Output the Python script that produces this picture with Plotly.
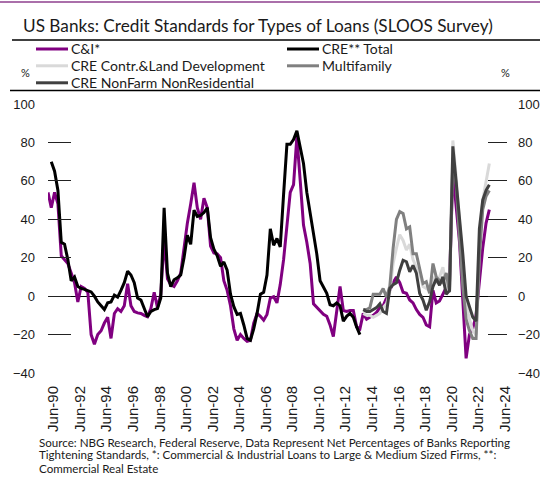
import pandas as pd
import plotly.graph_objects as go

# ---- data: net % of banks reporting tightening standards, quarterly from Q1 1990 ----
quarters = pd.date_range("1990-01-01", periods=134, freq="QS")

ci_loans = [
    54, 46, 54, 48, 21, 19, 17, 12, 7, -3, 5, 4, 2, -20, -25, -20, -18, -14, -11, -22,
    -9, -6.5, -8, -5, 6.5, -5, -8, -8.7, -9, -10, -10.7, -6.5, 2, -6, 1, 30, 9, 6, 5, 8,
    12, 25, 38, 48, 59, 46, 40, 51, 46, 26, 22.5, 22, 20, 8, 3, -5, -17, -23, -20, -22,
    -23.5, -23, -14, -9, -10.5, -12.5, -9.5, -1, -0.3, -3.5, 6, 19, 35, 54, 58, 83, 60, 37, 28, 17,
    -4, -6, -7.5, -9.5, -10.5, -15, -21, -9, 5, -7.5, -8, -7.5, -7.5, -16, -17, -9, -12, -11, -10, -8.5,
    -6, -5, -1, 3, 7, 10, 7, 2, 1.5, -2, -3.5, -7, -9.5, -11, -15, -16, 3, -3.5, -2.5, 1,
    4.5, 8, 65, 45, 28, -2, -32.4, -20, -17, -10, 7, 25, 38, 45,
]

# CRE total: Q2 1990 .. Q3 2013
cre_total = [
    70, 65, 55, 28, 27, 19, 8, 10, 5, 4, 3.5, 2.8, 2.2, 0, -3, -5, -7, -3.5, -3, 0.5,
    -0.5, 3, 7, 13, 11, 7, -1, -2, -6, -10.7, -8, -7, -6.5, -1, 46, 12, 5, 8.5, 9.5, 11,
    20, 31.7, 27, 44.7, 41.5, 42, 43.5, 46, 30.5, 24.5, 21, 15.5, 17.8, 13.5, 1, -5.5, -9.5, -9, -15, -22,
    -23, -17, -9, 1, 2, 11, 35, 26.5, 30, 25.6, 53, 79, 79, 81.5, 86, 77, 69, 54, 43, 32,
    22, 8, 5, 1.5, -4.5, -5, -3.5, -5, -13, -10.5, -9, -11, -16, -20,
]

# CRE sub-categories: Q4 2013 .. Q2 2023
cre_construction = [
    -9, -10, -10, -11, -10, -9, -6, -4, 2, 17, 25, 32, 29, 24, 27, 19, 15, 12, 5, 4,
    3, 10, 6.6, 10, 15, 5, 3, 81, 62, 38, 18, -3, -12, -18, -20, 25, 50, 60, 69,
]
cre_multifamily = [
    -7, -7, -6, 1, 1, 1, 4, -0.5, 5, 25, 40, 44, 43, 35, 36, 22, 22, 13.5, 6.6, 7.5,
    1.4, 17, 10, 8, 7, 12, 2, 72, 58, 30, 5, -12, -18, -22, -22, 20, 45, 52, 55,
]
cre_nonfarm = [
    -7, -8, -8, -7, -6, -4, -8, -9, 4, 6, 7, 13.5, 18.7, 17.9, 12.7, 16, 12, 1.4, -2, -7.3,
    -3, 5, 9, 5.7, 10, 1, 3, 78, 60, 40, 22, 0, -6, -11, -13, 35, 50, 55, 58,
]

y_ticks = [-40, -20, 0, 20, 40, 60, 80, 100]
x_tick_years = list(range(1990, 2025, 2))

series = [
    ("C&I*", quarters, ci_loans, "#800080"),
    ("CRE** Total", quarters[1:1 + len(cre_total)], cre_total, "#000000"),
    ("CRE Contr.&Land Development", quarters[95:95 + len(cre_construction)], cre_construction, "#D9D9D9"),
    ("Multifamily", quarters[95:95 + len(cre_multifamily)], cre_multifamily, "#808080"),
    ("CRE NonFarm NonResidential", quarters[95:95 + len(cre_nonfarm)], cre_nonfarm, "#404040"),
]

# ---- page geometry (pixels) ----
W, H = 540, 479
L, R, T, B = 48, 507, 104, 373


def px(x):
    return (x - L) / (R - L)


def py(y):
    return (B - y) / (B - T)


TEXT_FONT = "Lato, 'Open Sans', sans-serif"
AXIS_FONT = "'Liberation Sans', Arial, sans-serif"
INK = "#1a1a1a"

fig = go.Figure()
for name, xs, ys, color in series:
    fig.add_trace(go.Scatter(
        x=xs, y=ys, name=name, mode="lines",
        line=dict(color=color, width=3), showlegend=False,
    ))
# empty trace so the right-hand axis is drawn
fig.add_trace(go.Scatter(x=[], y=[], yaxis="y2", showlegend=False))

fig.update_layout(
    width=W, height=H, autosize=False,
    margin=dict(l=L, r=W - R, t=T, b=H - B, pad=0, autoexpand=False),
    paper_bgcolor="white", plot_bgcolor="white",
    xaxis=dict(
        type="date", range=["1990-01-01", "2024-07-30"],
        tickvals=[f"{y}-06-01" for y in x_tick_years],
        ticktext=[f"Jun-{str(y)[2:]}" for y in x_tick_years],
        tickangle=-90, ticks="", showgrid=False, showline=False, zeroline=False,
        tickfont=dict(family=AXIS_FONT, size=15, color=INK),
        ticklabelstandoff=9,
    ),
    yaxis=dict(
        range=[-40, 100], tickvals=y_ticks, ticks="inside", ticklen=23,
        tickwidth=1.3, tickcolor="#222222", showgrid=False, showline=False,
        zeroline=True, zerolinecolor="#000000", zerolinewidth=1.3,
        tickfont=dict(family=AXIS_FONT, size=13, color=INK),
        ticklabelstandoff=12,
    ),
    yaxis2=dict(
        range=[-40, 100], tickvals=y_ticks, ticks="inside", ticklen=19,
        tickwidth=1.3, tickcolor="#222222", showgrid=False, showline=False,
        zeroline=False, overlaying="y", side="right",
        tickfont=dict(family=AXIS_FONT, size=13, color=INK),
        ticklabelstandoff=10,
    ),
)

shapes = [
    # thin accent rule at the very top, rules under the title and legend
    dict(type="line", xref="paper", yref="paper", x0=px(0), x1=px(540), y0=py(2), y1=py(2),
         line=dict(color="#8e3f8e", width=1.5)),
    dict(type="line", xref="paper", yref="paper", x0=px(12), x1=px(540), y0=py(40), y1=py(40),
         line=dict(color="#000000", width=1.3)),
    dict(type="line", xref="paper", yref="paper", x0=px(10), x1=px(540), y0=py(90.5), y1=py(90.5),
         line=dict(color="#000000", width=1.3)),
]
annotations = [
    dict(text="US Banks: Credit Standards for Types of Loans (SLOOS Survey)",
         xref="paper", yref="paper", x=px(21), y=py(25), xanchor="left", yanchor="middle",
         showarrow=False, font=dict(family=TEXT_FONT, size=17.2, color=INK)),
    dict(text="%", xref="paper", yref="paper", x=px(25), y=py(72), xanchor="center",
         yanchor="middle", showarrow=False, font=dict(family=TEXT_FONT, size=11, color=INK)),
    dict(text="%", xref="paper", yref="paper", x=px(505), y=py(72), xanchor="center",
         yanchor="middle", showarrow=False, font=dict(family=TEXT_FONT, size=11, color=INK)),
]

# legend: two columns, three rows
legend_slots = [(36, 49), (287, 49), (36, 65.8), (287, 65.8), (36, 82.8)]
for (name, _, _, color), (lx, ly) in zip(series, legend_slots):
    shapes.append(dict(type="line", xref="paper", yref="paper", x0=px(lx), x1=px(lx + 32),
                       y0=py(ly), y1=py(ly), line=dict(color=color, width=3)))
    annotations.append(dict(text=name, xref="paper", yref="paper", x=px(lx + 33), y=py(ly),
                            xanchor="left", yanchor="middle", showarrow=False,
                            font=dict(family=TEXT_FONT, size=14, color=INK)))

footer = [
    "Source: NBG Research, Federal Reserve, Data Represent Net Percentages of Banks Reporting",
    "Tightening Standards, *: Commercial & Industrial Loans to Large & Medium Sized Firms, **:",
    "Commercial Real Estate",
]
for i, line in enumerate(footer):
    annotations.append(dict(text=line, xref="paper", yref="paper", x=px(37), y=py(442 + 13 * i),
                            xanchor="left", yanchor="middle", showarrow=False,
                            font=dict(family=TEXT_FONT, size=11.6, color=INK)))

fig.update_layout(shapes=shapes, annotations=annotations)

# keep the page free of scrollbars so the figure renders at its full fixed size
page_fix = (
    "document.body.style.margin='0';"
    "document.body.style.overflow='hidden';"
    "document.documentElement.style.overflow='hidden';"
)
fig.write_html("out.html", config={"responsive": False}, post_script=page_fix)
